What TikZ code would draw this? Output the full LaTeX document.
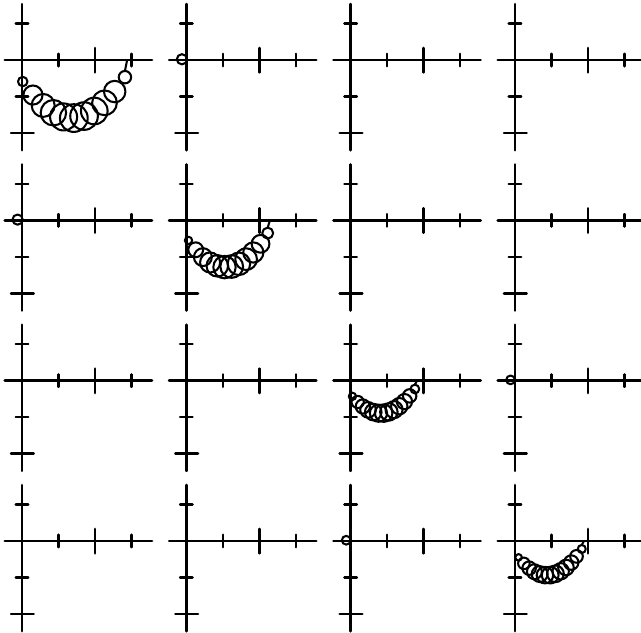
\documentclass[tikz,border=0pt]{standalone}
\usepackage{tikz}

% Chuỗi vòng tròn: trái (#1,#2), phải (#3,#4), độ võng #5,
% bán kính đầu trái #6, đầu phải #7, giữa #8, chỉ số cuối #9
\newcommand{\chuoivong}[9]{%
	\foreach \i in {0,...,#9}{%
		\pgfmathsetmacro{\tham}{\i/#9}
		\pgfmathsetmacro{\cx}{(#1)+((#3)-(#1))*\tham}
		\pgfmathsetmacro{\cy}{(#2)+((#4)-(#2))*\tham-4*(#5)*\tham*(1-\tham)}
		\pgfmathsetmacro{\bk}{(#6)*(1-\tham)+(#7)*\tham+((#8)-((#6)+(#7))/2)*sqrt(sin(180*\tham))}
		\draw[vong] (\cx,\cy) circle (\bk);
	}
	% dây treo đầu phải
	\draw[vong] ({#3},{(#4)+(#7)}) -- ({(#3)+0.06},0);
}

\begin{document}
\begin{tikzpicture}[line cap=round, line join=round,
	truc/.style={line width=2.2pt},
	vach/.style={line width=2pt},
	vong/.style={line width=1.6pt}]
	
	% Khung hình
	\clip (0,0) rectangle (17.56,-17.34);
	
	% Hệ trục tọa độ cho 16 ô
	\foreach \hang in {0,...,3}
	\foreach \cot in {0,...,3}{
		\begin{scope}[shift={({0.6027+4.5014*\cot},{-1.644-4.3918*\hang})}]
			\draw[truc] (-0.47,0) -- (3.56,0);
			\draw[truc] (0,1.53) -- (0,-2.47);
			% vạch chia trên Ox
			\draw[vach] (1,-0.17) -- (1,0.17);
			\draw[vach] (2,-0.34) -- (2,0.33);
			\draw[vach] (3,-0.17) -- (3,0.17);
			% vạch chia trên Oy
			\draw[vach] (-0.17,1) -- (0.17,1);
			\draw[vach] (-0.17,-1) -- (0.17,-1);
			\draw[vach] (-0.3,-2) -- (0.32,-2);
		\end{scope}
	}
	
	% Các chuỗi vòng
	\begin{scope}[shift={(0.6027,-1.644)}]
		\chuoivong{0.02}{-0.59}{2.82}{-0.47}{1.06}{0.13}{0.17}{0.38}{10}
	\end{scope}
	\begin{scope}[shift={(5.104,-6.036)}]
		\chuoivong{0.06}{-0.55}{2.23}{-0.35}{0.83}{0.1}{0.15}{0.31}{11}
	\end{scope}
	\begin{scope}[shift={(9.605,-10.427)}]
		\chuoivong{0.05}{-0.43}{1.76}{-0.23}{0.56}{0.1}{0.12}{0.24}{12}
	\end{scope}
	\begin{scope}[shift={(14.107,-14.819)}]
		\chuoivong{0.1}{-0.45}{1.83}{-0.22}{0.6}{0.09}{0.11}{0.23}{12}
	\end{scope}
	
	% Vòng nhỏ tại gốc
	\draw[vong] (5.104-0.12,-1.644+0.02) circle (0.14);
	\draw[vong] (0.6027-0.12,-6.036+0.02) circle (0.14);
	\draw[vong] (14.107-0.12,-10.427+0.02) circle (0.12);
	\draw[vong] (9.605-0.12,-14.819+0.02) circle (0.12);
	
\end{tikzpicture}
\end{document}
